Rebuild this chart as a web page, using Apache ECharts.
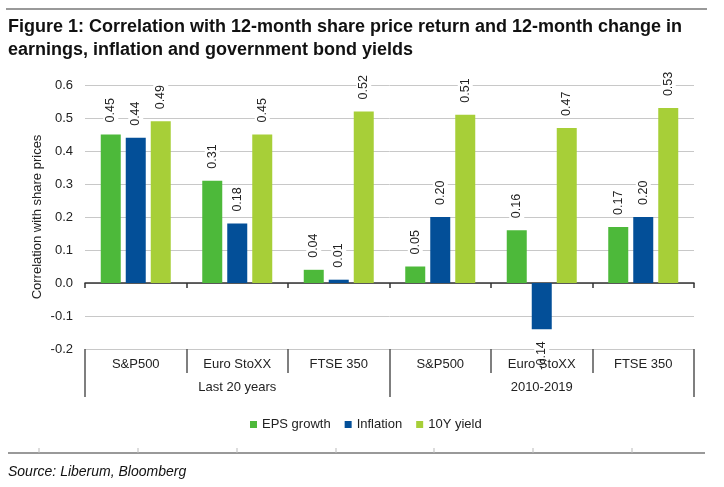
<!DOCTYPE html>
<html>
<head>
<meta charset="utf-8">
<script src="https://cdn.jsdelivr.net/npm/echarts@6/dist/echarts.min.js"></script>
<style>
html,body{margin:0;padding:0;background:#fff;}
#chart{width:724px;height:487px;}
</style>
</head>
<body>
<div id="chart"></div>
<script>
// ---- data ----
var categories = ['S&P500', 'Euro StoXX', 'FTSE 350', 'S&P500', 'Euro StoXX', 'FTSE 350'];
var groups = ['Last 20 years', '2010-2019'];
var seriesNames = ['EPS growth', 'Inflation', '10Y yield'];
var epsGrowth = [0.45, 0.31, 0.04, 0.05, 0.16, 0.17];
var inflation = [0.44, 0.18, 0.01, 0.20, -0.14, 0.20];
var yield10Y = [0.49, 0.45, 0.52, 0.51, 0.47, 0.53];
var yTicks = { min: -0.2, max: 0.6, interval: 0.1 };

var titleText = 'Figure 1: Correlation with 12-month share price return and 12-month change in\nearnings, inflation and government bond yields';
var sourceText = 'Source: Liberum, Bloomberg';
var yAxisName = 'Correlation with share prices';

var colors = ['#4db93a', '#034f98', '#a7cf38'];
var FONT = '"Liberation Sans", Arial, Helvetica, sans-serif';

function toData(values) {
  return values.map(function (v) {
    if (v < 0) {
      return { value: v, label: { position: 'bottom', align: 'right' } };
    }
    return v;
  });
}

function makeSeries(name, values, color) {
  return {
    name: name,
    type: 'bar',
    xAxisIndex: 0,
    yAxisIndex: 0,
    barWidth: 20,
    barGap: '25%',
    itemStyle: { color: color },
    label: {
      show: true,
      position: 'top',
      rotate: 90,
      align: 'left',
      verticalAlign: 'middle',
      distance: 12,
      fontFamily: FONT,
      fontSize: 12.5,
      color: '#222',
      backgroundColor: '#fff',
      padding: [1, 0],
      formatter: function (p) { return p.value.toFixed(2); }
    },
    data: toData(values)
  };
}

var chart = echarts.init(document.getElementById('chart'), null, { renderer: 'canvas' });

// decorative rules (top and bottom) with small ticks on the bottom rule
var bottomTicks = [39, 138, 237, 336, 434, 533, 632].map(function (x) {
  return { type: 'line', shape: { x1: x, y1: 448, x2: x, y2: 453 }, style: { stroke: '#bbb', lineWidth: 1 } };
});

var option = {
  animation: false,
  textStyle: { fontFamily: FONT },
  title: {
    text: titleText,
    left: 8,
    top: 16,
    padding: 0,
    textStyle: { fontFamily: FONT, fontSize: 18, fontWeight: 'bold', color: '#111', lineHeight: 23 }
  },
  graphic: [
    { type: 'line', shape: { x1: 6, y1: 9, x2: 707, y2: 9 }, style: { stroke: '#999', lineWidth: 2 } },
    { type: 'line', shape: { x1: 8, y1: 453, x2: 705, y2: 453 }, style: { stroke: '#999', lineWidth: 2 } }
  ].concat(bottomTicks).concat([
    { type: 'text', left: 8, top: 465, style: { text: sourceText, font: 'italic 14px ' + FONT, fill: '#111' } }
  ]),
  legend: {
    data: seriesNames,
    left: 245,
    top: 413,
    icon: 'rect',
    itemWidth: 7,
    itemHeight: 7,
    itemGap: 14,
    textStyle: { fontFamily: FONT, fontSize: 13, color: '#222' }
  },
  grid: { left: 85, right: 30, top: 85, bottom: 138, containLabel: false },
  xAxis: [
    {
      type: 'category',
      data: categories,
      position: 'bottom',
      axisLine: { show: true, onZero: true, lineStyle: { color: '#333', width: 1.5 } },
      axisTick: { show: true, length: 5, lineStyle: { color: '#333', width: 1.5 } },
      axisLabel: { show: false },
      splitLine: { show: false }
    },
    {
      type: 'category',
      data: categories,
      position: 'bottom',
      z: 10,
      axisLine: { show: false, onZero: false },
      axisTick: { show: true, length: 24, lineStyle: { color: '#555', width: 1.5 } },
      axisLabel: { show: true, interval: 0, margin: 9, fontFamily: FONT, fontSize: 13, color: '#222' },
      splitLine: { show: false }
    },
    {
      type: 'category',
      data: groups,
      position: 'bottom',
      z: 10,
      axisLine: { show: false, onZero: false },
      axisTick: { show: true, length: 48, lineStyle: { color: '#555', width: 1.5 } },
      axisLabel: { show: true, interval: 0, margin: 32, fontFamily: FONT, fontSize: 13, color: '#222' },
      splitLine: { show: false }
    }
  ],
  yAxis: {
    type: 'value',
    min: yTicks.min,
    max: yTicks.max,
    interval: yTicks.interval,
    name: yAxisName,
    nameLocation: 'middle',
    nameGap: 41,
    nameMoveOverlap: false,
    nameTextStyle: { fontFamily: FONT, fontSize: 13, color: '#222' },
    axisLine: { show: false },
    axisTick: { show: false },
    axisLabel: {
      margin: 12,
      fontFamily: FONT,
      fontSize: 13,
      color: '#222',
      formatter: function (v) { return v.toFixed(1); }
    },
    splitLine: { show: true, lineStyle: { color: '#c8c8c8', width: 1 } }
  },
  series: [
    makeSeries(seriesNames[0], epsGrowth, colors[0]),
    makeSeries(seriesNames[1], inflation, colors[1]),
    makeSeries(seriesNames[2], yield10Y, colors[2])
  ]
};

chart.setOption(option);
</script>
</body>
</html>
